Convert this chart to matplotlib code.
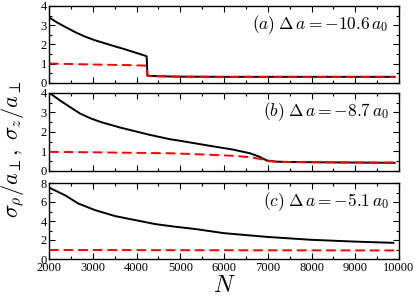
import numpy as np
import matplotlib
matplotlib.use("Agg")
import matplotlib.pyplot as plt
from matplotlib.ticker import MultipleLocator

plt.rcParams['font.family'] = ['Liberation Serif', 'DejaVu Serif']
plt.rcParams['mathtext.fontset'] = 'cm'

# panel (a): Delta a = -10.6 a0
n_a_black = [2000, 2180, 2366, 2600, 2823, 3050, 3280, 3510, 3737, 3960, 4194, 4233, 4250, 4500, 5000, 6000, 8000, 9900]
w_a_black = [3.41, 3.15, 2.92, 2.64, 2.41, 2.22, 2.06, 1.90, 1.75, 1.59, 1.42, 1.38, 0.38, 0.35, 0.33, 0.32, 0.32, 0.32]
n_a_red = [2000, 3000, 3800, 4233, 4250, 4500, 5000, 6000, 8000, 9900]
w_a_red = [1.01, 0.96, 0.93, 0.90, 0.38, 0.35, 0.33, 0.32, 0.32, 0.32]

# panel (b): Delta a = -8.7 a0
n_b_black = [2000, 2250, 2500, 2709, 2950, 3200, 3623, 4309, 4766, 4994, 5680, 6200, 6594, 6823, 6975, 7200, 7509, 8500, 9900]
w_b_black = [4.02, 3.62, 3.25, 2.95, 2.70, 2.50, 2.23, 1.85, 1.63, 1.55, 1.29, 1.10, 0.91, 0.72, 0.54, 0.48, 0.46, 0.44, 0.42]
n_b_red = [2000, 3000, 4000, 4766, 5500, 6200, 6594, 6823, 6975, 7200, 8000, 9900]
w_b_red = [0.98, 0.96, 0.93, 0.91, 0.85, 0.78, 0.71, 0.62, 0.52, 0.47, 0.45, 0.43]

# panel (c): Delta a = -5.1 a0
n_c_black = [2000, 2366, 2670, 3051, 3509, 3966, 4423, 4880, 5337, 6000, 7000, 8000, 9000, 9870]
w_c_black = [7.52, 6.71, 5.84, 5.15, 4.52, 4.10, 3.68, 3.40, 3.16, 2.72, 2.32, 2.02, 1.83, 1.70]
n_c_red = [2000, 6000, 9900]
w_c_red = [0.95, 0.92, 0.90]

labels = [r'$(a)\;\Delta\, a = -10.6\, a_0$',
          r'$(b)\;\Delta\, a = -8.7\, a_0$',
          r'$(c)\;\Delta\, a = -5.1\, a_0$']
ymax = [4, 4, 8]
ymajor = [1, 1, 2]

fig = plt.figure(figsize=(4.15, 3.0), dpi=100)
W, H = 415.0, 300.0
tops = [6, 93, 183]
bots = [83, 171, 259]
axes = []
for t, b in zip(tops, bots):
    ax = fig.add_axes([49 / W, 1 - b / H, 350 / W, (b - t) / H])
    axes.append(ax)

data = [(n_a_black, w_a_black, n_a_red, w_a_red),
        (n_b_black, w_b_black, n_b_red, w_b_red),
        (n_c_black, w_c_black, n_c_red, w_c_red)]

for i, ax in enumerate(axes):
    nb, wb, nr, wr = data[i]
    ax.plot(nb, wb, color='black', lw=1.4)
    ax.plot(nr, wr, color='red', lw=1.4, dashes=(5, 2.5))
    ax.set_xlim(2000, 10000)
    ax.set_ylim(0, ymax[i])
    ax.xaxis.set_major_locator(MultipleLocator(1000))
    ax.xaxis.set_minor_locator(MultipleLocator(500))
    ax.yaxis.set_major_locator(MultipleLocator(ymajor[i]))
    ax.yaxis.set_minor_locator(MultipleLocator(ymajor[i] / 2))
    ax.tick_params(which='both', direction='in', top=True, right=True, labelsize=9, width=0.8, pad=1.5)
    ax.tick_params(axis='x', pad=2.5)
    ax.tick_params(which='major', length=4)
    ax.tick_params(which='minor', length=2)
    for s in ax.spines.values():
        s.set_linewidth(1.0)
    ax.text(0.97, 0.76, labels[i], transform=ax.transAxes, ha='right', va='center', fontsize=12.5)
    if i < 2:
        ax.set_xticklabels([])

axes[2].set_xlabel(r'$N$', fontsize=17, labelpad=1)
fig.text(0.03, 0.5, r'$\sigma_\rho/a_\perp,\;\sigma_z/a_\perp$', rotation=90,
         ha='center', va='center', fontsize=16)

fig.savefig('out.png', dpi=100)
